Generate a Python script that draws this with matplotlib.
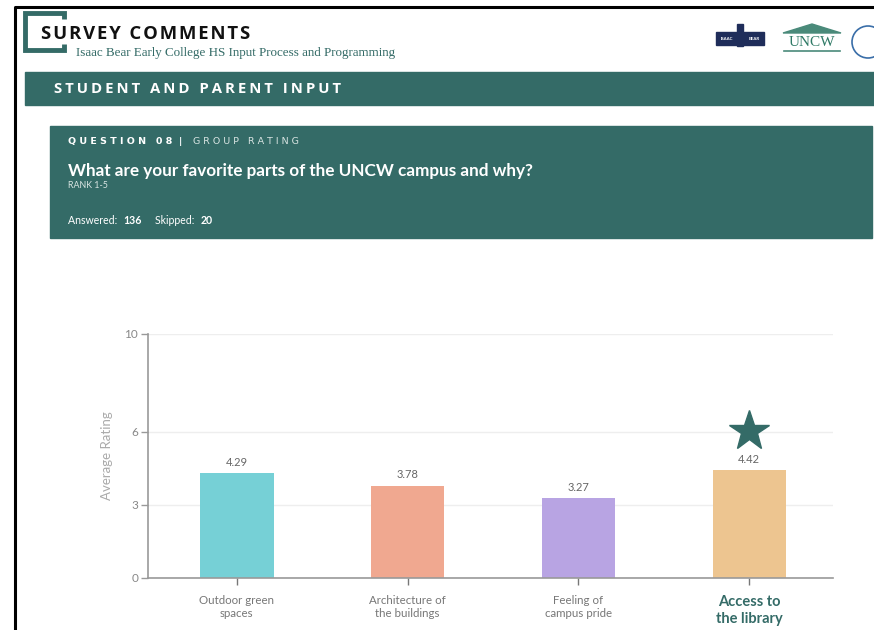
import matplotlib
matplotlib.use('Agg')
import matplotlib.pyplot as plt
from matplotlib.patches import Rectangle, Polygon, Circle

# Dados do gráfico
categories = ['Outdoor green\nspaces', 'Architecture of\nthe buildings', 'Feeling of\ncampus pride', 'Access to\nthe library']
avg_rating = [4.29, 3.78, 3.27, 4.42]
bar_colors = ['#76d0d6', '#f0a890', '#b8a4e3', '#edc590']
y_ticks = [0, 3, 6, 10]
answered = 136
skipped = 20

TEAL = '#346b67'
W, H = 874, 630

plt.rcParams['font.family'] = ['Lato', 'DejaVu Sans']

fig = plt.figure(figsize=(W / 100, H / 100), dpi=100)
fig.patch.set_facecolor('white')

# Camada de fundo em coordenadas de pixel
bg = fig.add_axes([0, 0, 1, 1], zorder=0)
bg.set_xlim(0, W)
bg.set_ylim(H, 0)
bg.axis('off')

# moldura preta
bg.plot([15, 15, W], [H, 7, 7], color='black', lw=2.2, solid_capstyle='butt')

# colchete do título
bg.plot([64, 64, 25, 25, 64, 64], [19, 13, 13, 50, 50, 44], color=TEAL, lw=3.5,
        solid_joinstyle='miter', solid_capstyle='butt')


def spaced(s, n=1):
    return (' ' * n).join(s)


bg.text(41, 34, '\u200a'.join('SURVEY COMMENTS'), fontsize=13.3, fontweight='bold',
        color='#111111', va='center', ha='left', family=['Open Sans', 'DejaVu Sans'])
bg.text(76, 53, 'Isaac Bear Early College HS Input Process and Programming', fontsize=9.4,
        color=TEAL, va='center', ha='left', family=['Liberation Serif'])

# logos (aproximados)
bg.add_patch(Rectangle((716, 32), 48, 13, color='#1f2d5a'))
bg.add_patch(Rectangle((737, 24), 6, 22, color='#1f2d5a'))
bg.text(727, 39, 'ISAAC', fontsize=3.2, color='white', ha='center', va='center', fontweight='bold')
bg.text(754, 39, 'BEAR', fontsize=3.2, color='white', ha='center', va='center', fontweight='bold')
bg.add_patch(Polygon([[783, 33], [812, 24], [841, 33]], closed=True, color='#4a8a7a'))
bg.text(812, 42, 'UNCW', fontsize=11, color='#2f7a66', ha='center', va='center',
        family=['Liberation Serif'])
bg.plot([784, 840], [51, 51], color='#4a8a7a', lw=1.2)
bg.add_patch(Circle((868, 42), 16, fill=False, ec='#3a6ea8', lw=1.2))

# faixa "STUDENT AND PARENT INPUT"
bg.add_patch(Rectangle((25, 72), W - 25, 33, color=TEAL))
bg.text(54, 89, '\u2009'.join('STUDENT AND PARENT INPUT'), fontsize=10.7, fontweight='bold',
        color='white', va='center', ha='left', family=['Open Sans', 'DejaVu Sans'])

# bloco da pergunta
bg.add_patch(Rectangle((50, 126), 822, 112, color=TEAL))
bg.text(68, 142, spaced('QUESTION') + '   ' + spaced('08') + '  |', fontsize=6.8, fontweight='bold',
        color='white', va='center', ha='left', family=['DejaVu Sans'])
bg.text(193, 142, spaced('GROUP') + '   ' + spaced('RATING'), fontsize=6.8,
        color='#d8e4e2', va='center', ha='left', family=['DejaVu Sans'])
bg.text(68, 171, 'What are your favorite parts of the UNCW campus and why?', fontsize=12.3,
        fontweight='bold', color='white', va='center', ha='left')
bg.text(68, 186, 'RANK 1-5', fontsize=6.4, color='#d8e4e2', va='center', ha='left')
bg.text(68, 221, 'Answered: ', fontsize=7.6, color='white', va='center', ha='left')
bg.text(123, 221, str(answered), fontsize=7.6, fontweight='bold', color='white', va='center', ha='left')
bg.text(155, 221, 'Skipped: ', fontsize=7.6, color='white', va='center', ha='left')
bg.text(201, 221, str(skipped), fontsize=7.6, fontweight='bold', color='white', va='center', ha='left')

# Gráfico de barras
ax = fig.add_axes([148 / W, (H - 578) / H, (833 - 148) / W, (578 - 334) / H], zorder=1)
ax.patch.set_alpha(0)
x = range(len(categories))
bars = ax.bar(x, avg_rating, width=0.43, color=bar_colors, zorder=2)
ax.bar_label(bars, labels=[f'{v:.2f}' for v in avg_rating], padding=4, fontsize=8, color='#666666')

# estrela sobre o maior valor
best = avg_rating.index(max(avg_rating))
ax.plot(best, avg_rating[best] + 1.6, marker='*', markersize=30, color=TEAL, zorder=3, clip_on=False)

ax.set_ylim(0, 10)
ax.set_xlim(-0.52, 3.49)
ax.set_yticks(y_ticks)
ax.set_xticks(list(x))
ax.set_xticklabels(categories, fontsize=8.3, color='#777777', linespacing=1.3)
last = ax.get_xticklabels()[best]
last.set_fontsize(10.5)
last.set_fontweight('bold')
last.set_color(TEAL)
ax.tick_params(axis='y', labelsize=8.5, labelcolor='#888888', color='#999999', length=5, width=1, pad=2)
ax.tick_params(axis='x', color='#777777', length=5, width=1, pad=7)
ax.grid(axis='y', color='#eeeeee', lw=1, zorder=0)
ax.set_axisbelow(True)
for s in ['top', 'right']:
    ax.spines[s].set_visible(False)
ax.spines['left'].set_color('#999999')
ax.spines['bottom'].set_color('#999999')
ax.spines['left'].set_linewidth(1.2)
ax.spines['bottom'].set_linewidth(1.2)
ax.set_ylabel('Average Rating', fontsize=9.5, color='#aaaaaa', labelpad=8)

plt.savefig('out.png', dpi=100)
